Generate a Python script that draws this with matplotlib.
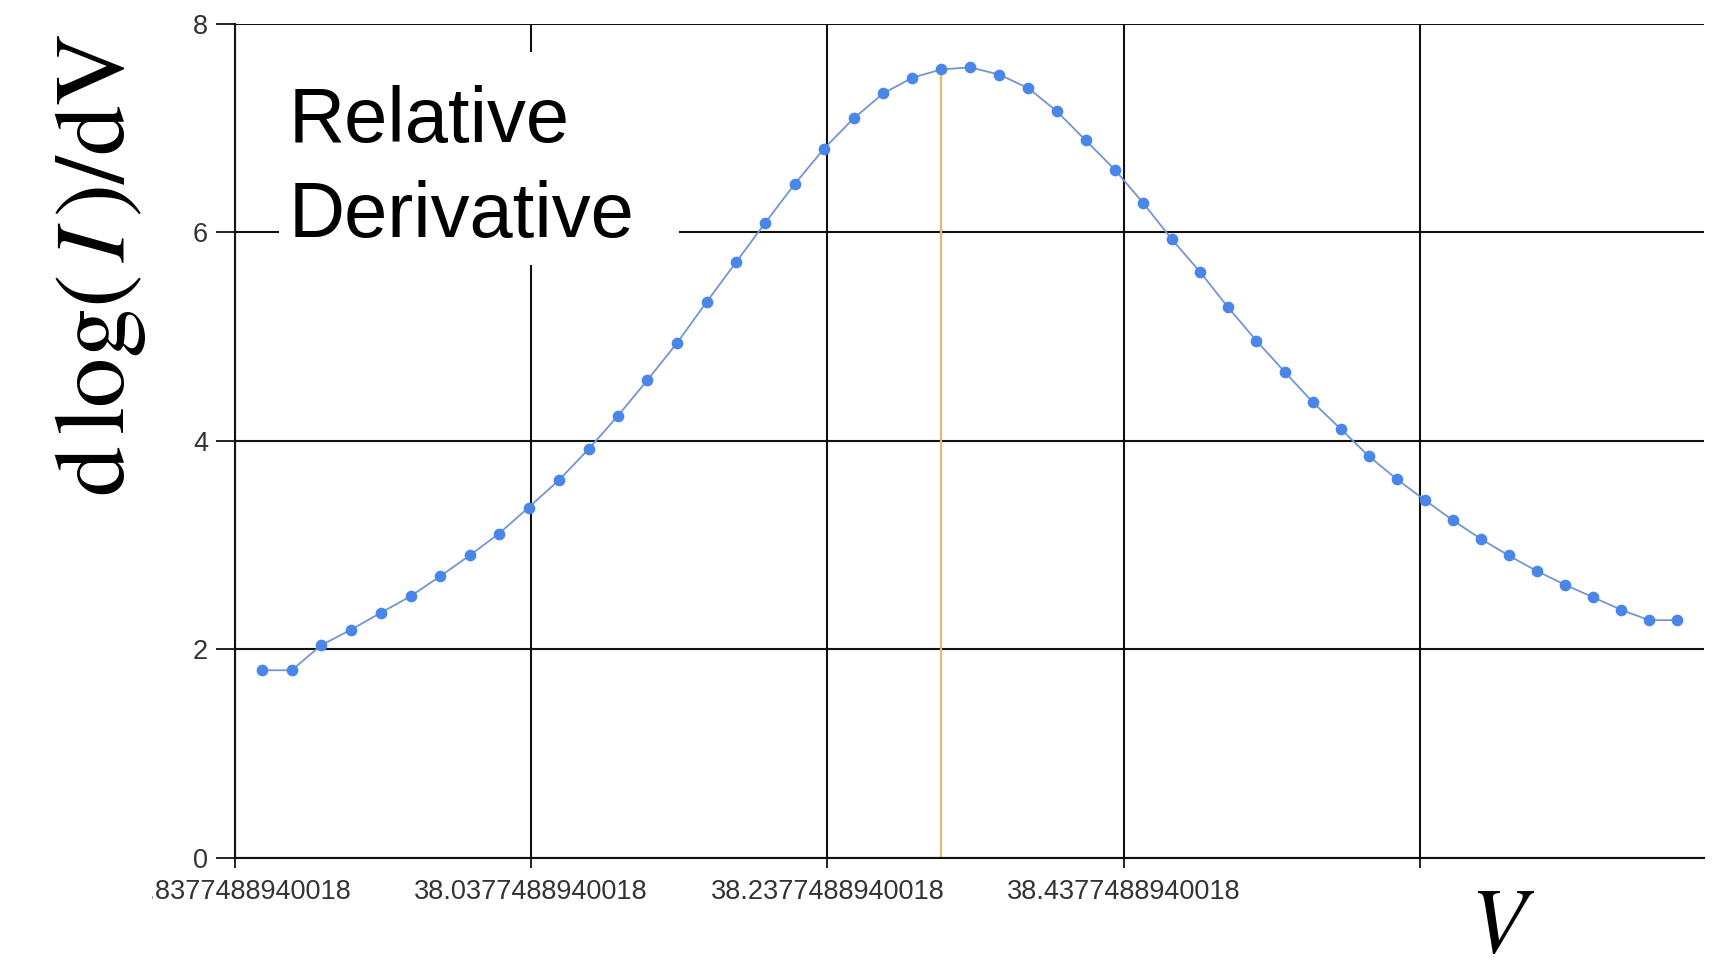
# Relative derivative d log(I)/dV against V, with a marker at the peak

import matplotlib
matplotlib.use("Agg")
import matplotlib.pyplot as plt
from matplotlib.patches import Rectangle

# measured points
voltage = [37.8565, 37.8763, 37.8963, 37.9165, 37.9364, 37.9566, 37.9764, 37.9964, 38.0162, 38.0362,
           38.0565, 38.0767, 38.0965, 38.1163, 38.1365, 38.1563, 38.1761, 38.1959, 38.2157, 38.2355,
           38.2555, 38.2755, 38.2951, 38.3147, 38.3342, 38.3538, 38.3734, 38.3925, 38.4121, 38.4317,
           38.4508, 38.4703, 38.4892, 38.5081, 38.5272, 38.5464, 38.5653, 38.5844, 38.6033, 38.6222,
           38.6410, 38.6596, 38.6786, 38.6975, 38.7166, 38.7355, 38.7544, 38.7733, 38.7922, 38.8111]
rel_deriv = [1.80, 1.80, 2.04, 2.19, 2.35, 2.51, 2.70, 2.90, 3.11, 3.36,
             3.62, 3.92, 4.24, 4.58, 4.94, 5.33, 5.71, 6.09, 6.46, 6.80,
             7.09, 7.33, 7.48, 7.56, 7.58, 7.51, 7.38, 7.16, 6.88, 6.60,
             6.28, 5.93, 5.62, 5.28, 4.96, 4.66, 4.37, 4.11, 3.85, 3.63,
             3.43, 3.24, 3.06, 2.90, 2.75, 2.62, 2.50, 2.38, 2.28, 2.28]
peak = 23  # index where the orange marker line sits

xticks = [37.8377488940018, 38.0377488940018, 38.2377488940018, 38.4377488940018, 38.6377488940018]
xtick_labels = ["37.8377488940018", "38.0377488940018", "38.2377488940018", "38.4377488940018", ""]
yticks = [0, 2, 4, 6, 8]

plt.rcParams['mathtext.fontset'] = 'stix'
tick_font = ['Liberation Sans Narrow', 'Liberation Sans', 'DejaVu Sans']

fig = plt.figure(figsize=(17.26, 9.71), dpi=100)
ax = fig.add_axes([234.5 / 1726, 1 - 858 / 971, (1704 - 234.5) / 1726, (858 - 23.5) / 971])

ax.plot(voltage, rel_deriv, color='#7396d2', lw=1.3, zorder=3)
ax.plot(voltage, rel_deriv, 'o', color='#4a86e8', ms=7.4, mec='#4a86e8', zorder=4)
ax.vlines(voltage[peak], 0, rel_deriv[peak], color='#f0b46c', lw=1.6, zorder=2)

ax.set_xlim(37.8377488940018, 38.8293)
ax.set_ylim(0, 8)
ax.set_xticks(xticks)
ax.set_xticklabels(xtick_labels)
ax.set_yticks(yticks)
ax.grid(True, color='#111111', lw=1.5)
ax.set_axisbelow(True)

for s in ['top', 'right']:
    ax.spines[s].set_visible(False)
for s in ['left', 'bottom']:
    ax.spines[s].set_color('#111111')
    ax.spines[s].set_linewidth(1.5)

ax.tick_params(axis='x', direction='out', length=7, width=1.3, color='#111111', pad=8)
ax.tick_params(axis='y', direction='out', length=14, width=1.3, color='#111111', pad=5)
for lab in ax.get_xticklabels() + ax.get_yticklabels():
    lab.set_family(tick_font)
    lab.set_fontsize(19.5)
    lab.set_color('#333333')

# white patch on the left edge hides the start of the first tick label, like in the screenshot
fig.add_artist(Rectangle((0, 0), 152 / 1726, 1, transform=fig.transFigure,
                         facecolor='white', edgecolor='none', zorder=5))

# white box with the title text sitting over the grid
fig.add_artist(Rectangle((279 / 1726, 1 - 265 / 971), 400 / 1726, 213 / 971, transform=fig.transFigure,
                         facecolor='white', edgecolor='none', zorder=5))
fig.text(289 / 1726, 1 - 141.7 / 971, "Relative", fontsize=56, family=['Liberation Sans', 'DejaVu Sans'],
         ha='left', va='baseline', zorder=6)
fig.text(289 / 1726, 1 - 237.3 / 971, "Derivative", fontsize=56, family=['Liberation Sans', 'DejaVu Sans'],
         ha='left', va='baseline', zorder=6)

fig.text(99 / 1726, 1 - 265 / 971, r'$\mathrm{d}\,\log(\,I\,)/\mathrm{dV}$', fontsize=72,
         rotation=90, ha='center', va='center', zorder=7)
fig.text(1503 / 1726, 1 - 926 / 971, r'$V$', fontsize=66, ha='center', va='center', zorder=7)

fig.savefig('out.png', dpi=100, facecolor='white')
